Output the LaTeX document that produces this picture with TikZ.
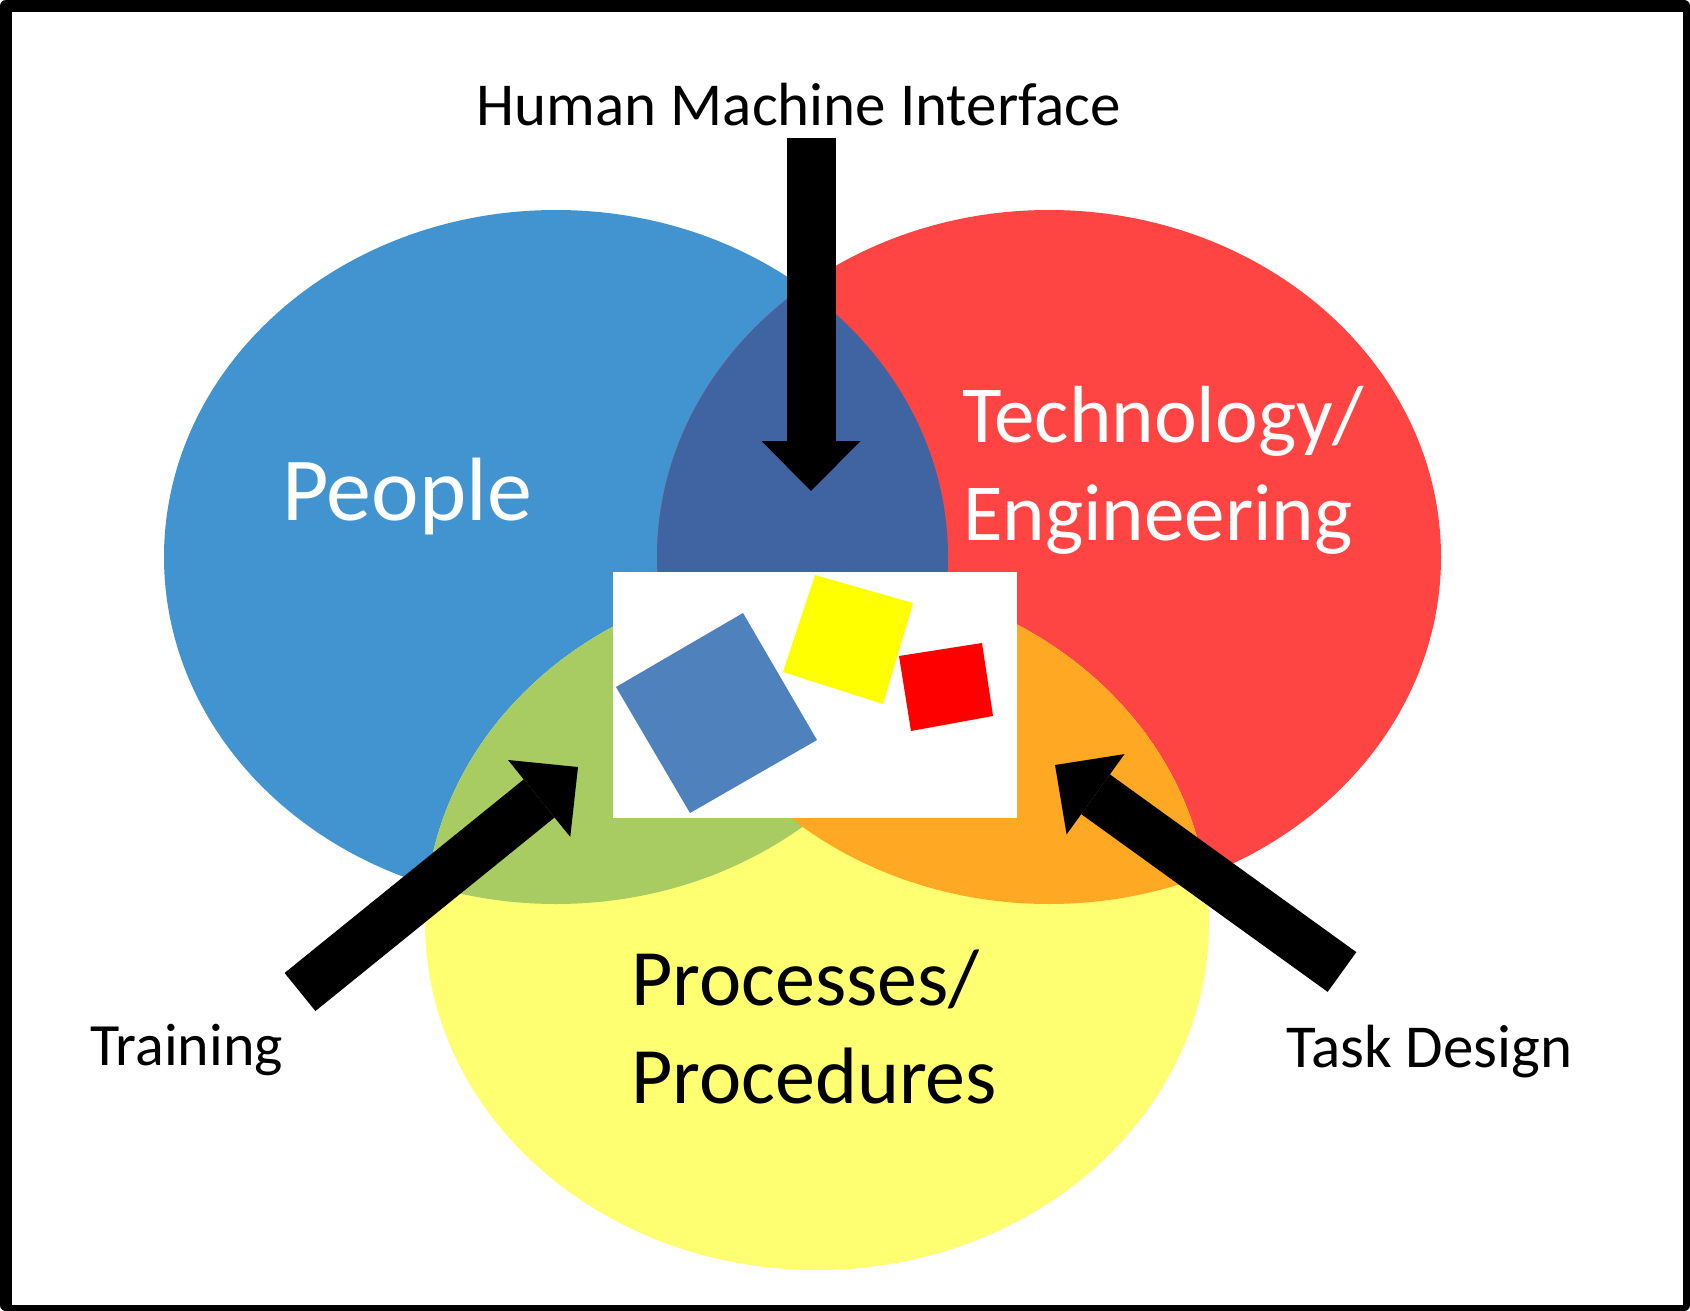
\documentclass[tikz,border=0pt]{standalone}
\usepackage{fontspec}
\setmainfont{Carlito}
\usetikzlibrary{arrows.meta}

\definecolor{peopleblue}{HTML}{4294D0}
\definecolor{techred}{HTML}{FF4444}
\definecolor{procyellow}{HTML}{FFFF72}
\definecolor{hmiblue}{HTML}{4064A2}
\definecolor{trainsgreen}{HTML}{A8CC62}
\definecolor{taskorange}{HTML}{FFA824}
\definecolor{sqblue}{HTML}{4F81BD}
\definecolor{sqyellow}{HTML}{FFFF00}
\definecolor{sqred}{HTML}{FF0000}

\begin{document}
\begin{tikzpicture}[x=1pt,y=-1pt,
  circletext/.style={anchor=base west, inner sep=0pt, font=\fontsize{81}{98}\selectfont},
  sidelabel/.style={anchor=base west, inner sep=0pt, font=\fontsize{60}{72}\selectfont},
  fatarrow/.style={line width=49pt, line cap=butt,
    -{Triangle[length=50pt,width=99pt,line width=0pt]}}]
\useasboundingbox (0,0) rectangle (1690,1311);

% frame
\fill[black, rounded corners=6pt] (0,0) rectangle (1690,1311);
\fill[white] (12,12) rectangle (1683,1305);

% the three sets
\def\peopleE{(556,557) ellipse [x radius=392, y radius=347]}
\def\techE{(1049,557) ellipse [x radius=392, y radius=347]}
\def\procE{(817,923) ellipse [x radius=392, y radius=347]}

\fill[peopleblue] \peopleE;
\fill[techred] \techE;
\fill[procyellow] \procE;

% pairwise overlaps
\begin{scope}
  \clip \peopleE;
  \fill[hmiblue] \techE;
\end{scope}
\begin{scope}
  \clip \peopleE;
  \fill[trainsgreen] \procE;
\end{scope}
\begin{scope}
  \clip \techE;
  \fill[taskorange] \procE;
\end{scope}

% centre picture
\node[fill=white, inner sep=0pt, minimum width=404pt, minimum height=246pt] (box) at (815,695) {};
\fill[sqblue] (743,613) -- (817,740) -- (690,813) -- (616,687) -- cycle;
\fill[sqyellow] (815,575) -- (913,603) -- (883,704) -- (783,672) -- cycle;
\fill[sqred] (899,656) -- (982,643) -- (993,716) -- (911,731) -- cycle;

% arrows
\coordinate (hmiTail) at (811,138);
\coordinate (hmiTip) at (811,491);
\coordinate (trTail) at (300,992);
\coordinate (trTip) at (578,767);
\coordinate (tdTail) at (1342,972);
\coordinate (tdTip) at (1055,765);

\draw[fatarrow] (hmiTail) -- (hmiTip);
\draw[fatarrow] (trTail) -- (trTip);
\draw[fatarrow] (tdTail) -- (tdTip);

% labels
\node[anchor=base, inner sep=0pt, font=\fontsize{61}{72}\selectfont] (hmi) at (799,126) {Human Machine Interface};
\node[circletext, text=white, font=\fontsize{90}{98}\selectfont] (people) at (282,520) {People};
\node[circletext, text=white] (tech1) at (962,442) {Technology/};
\node[circletext, text=white] (tech2) at (963,540) {Engineering};
\node[circletext, font=\fontsize{80}{98}\selectfont] (proc1) at (631,1005) {Processes/};
\node[circletext, font=\fontsize{80}{98}\selectfont] (proc2) at (631,1103) {Procedures};
\node[sidelabel] (training) at (90,1065) {Training};
\node[sidelabel, font=\fontsize{61}{72}\selectfont] (task) at (1286,1067) {Task Design};
\end{tikzpicture}
\end{document}
